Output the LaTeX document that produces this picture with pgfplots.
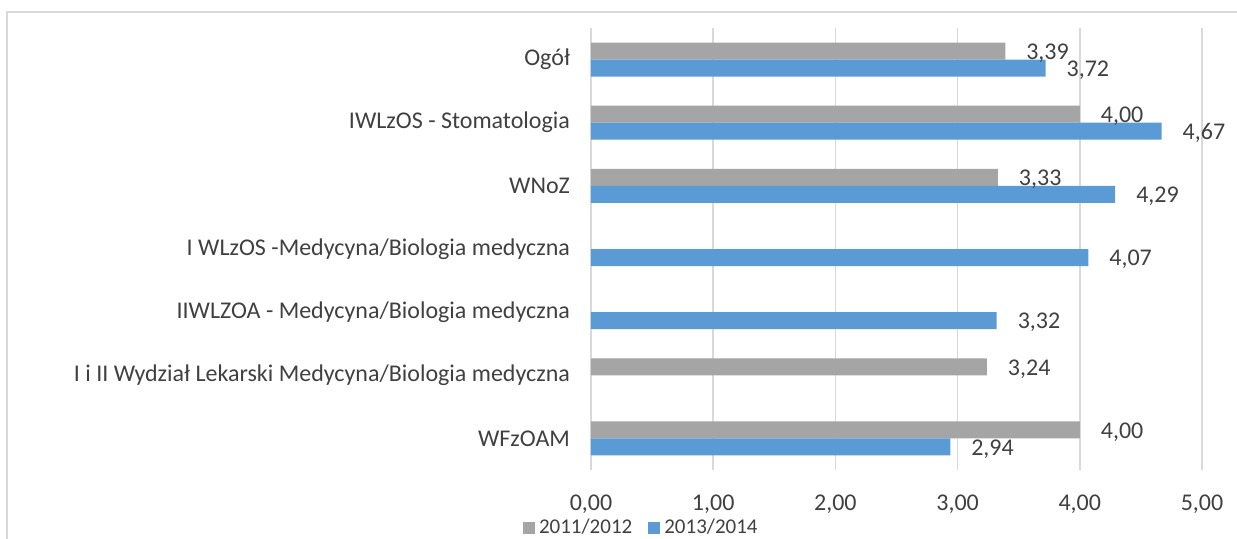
\documentclass[border=0pt]{standalone}
\usepackage{pgfplots}
\pgfplotsset{compat=1.18}
\usepackage{fontspec}
\setmainfont{Carlito}
\definecolor{szary}{RGB}{165,165,165}
\definecolor{niebieski}{RGB}{91,155,213}
\definecolor{siatka}{RGB}{217,217,217}
\definecolor{tekst}{RGB}{64,64,64}
\begin{document}
\begin{tikzpicture}
\path[use as bounding box] (-295.5pt,-34pt) rectangle (323pt,235pt);
% ramka wykresu
\draw[siatka, line width=0.8pt] (-292pt,-60pt) -- (-292pt,229pt) -- (340pt,229pt);
\begin{axis}[
    at={(0pt,0pt)}, anchor=south west,
    scale only axis,
    width=305.5pt, height=221pt,
    xbar, bar width=8.5pt,
    xmin=0, xmax=5, ymin=-0.5, ymax=6.5,
    xtick={0,1,...,5}, ytick={0,...,6},
    yticklabels={WFzOAM, I i II Wydział Lekarski Medycyna/Biologia medyczna, IIWLZOA - Medycyna/Biologia medyczna, I WLzOS -Medycyna/Biologia medyczna\ , WNoZ, IWLzOS - Stomatologia, Ogół},
    xmajorgrids, major grid style={siatka, line width=0.8pt},
    axis line style={draw=none}, major tick length=0pt,
    xticklabel style={font=\fontsize{12}{14}\selectfont, text=tekst, yshift=-9pt,
        /pgf/number format/.cd, fixed, fixed zerofill, precision=2, use comma, assume math mode=true},
    yticklabel style={font=\fontsize{12}{14}\selectfont, text=tekst, xshift=-7pt},
    point meta=x,
    nodes near coords,
    every node near coord/.append style={font=\fontsize{12}{14}\selectfont, text=tekst, anchor=west, xshift=7pt, yshift=-1pt,
        /pgf/number format/.cd, fixed, fixed zerofill, precision=2, use comma, assume math mode=true},
    legend style={at={(0.084,-0.131)}, anchor=center, draw=none, fill=none,
        font=\fontsize{10.5}{11}\selectfont, text=tekst, legend columns=-1,
        inner sep=0pt, /tikz/every even column/.append style={column sep=6pt}},
    legend image code/.code={\fill[#1] (-2.5pt,-3pt) rectangle (3.5pt,3pt);},
]
\addplot[fill=szary, draw=none, bar shift=4.25pt] coordinates {
    (3.39,6) (4.00,5) (3.33,4) (3.24,1) (4.00,0)
};
\addlegendentry{2011/2012}
\addplot[fill=niebieski, draw=none, bar shift=-4.25pt] coordinates {
    (3.72,6) (4.67,5) (4.29,4) (4.07,3) (3.32,2) (2.94,0)
};
\addlegendentry{2013/2014}
\end{axis}
\end{tikzpicture}
\end{document}
